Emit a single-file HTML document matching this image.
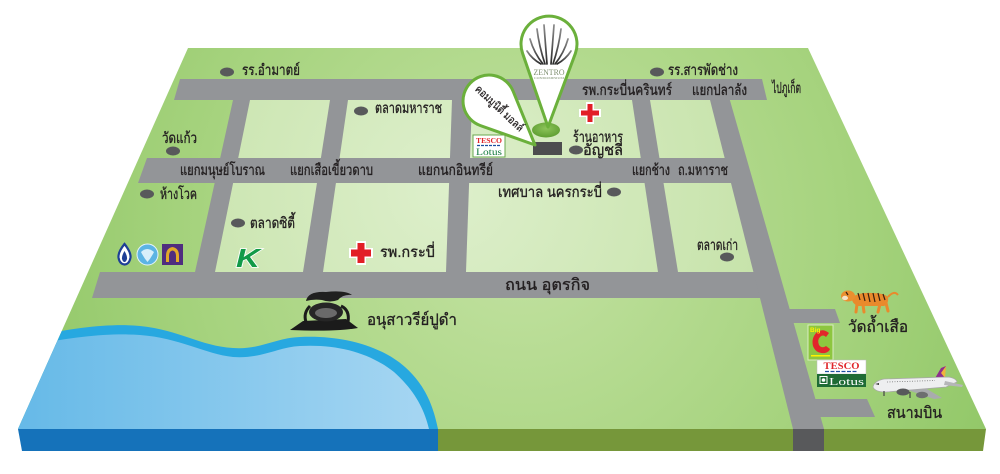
<!DOCTYPE html>
<html><head><meta charset="utf-8"><style>
html,body{margin:0;padding:0;background:#fff;}
svg{display:block;}
text{font-family:"Liberation Sans","DejaVu Sans",sans-serif;fill:#231f20;}
.lb text{stroke:#231f20;stroke-width:0.35;}
</style></head><body>
<svg width="1000" height="474" viewBox="0 0 1000 474" xmlns="http://www.w3.org/2000/svg">
<defs>
<radialGradient id="gTop" cx="520" cy="230" r="540" gradientUnits="userSpaceOnUse">
<stop offset="0" stop-color="#c3e2a2"/><stop offset="0.6" stop-color="#a6d37e"/><stop offset="1" stop-color="#8fc665"/></radialGradient>
<radialGradient id="gBlk" cx="450" cy="190" r="340" gradientUnits="userSpaceOnUse">
<stop offset="0" stop-color="#ddefcb"/><stop offset="1" stop-color="#c5e2a8"/></radialGradient>
<linearGradient id="gWater" x1="0" y1="0" x2="1" y2="0">
<stop offset="0" stop-color="#63b8e7"/><stop offset="1" stop-color="#a6d6f2"/></linearGradient>
<linearGradient id="gStripe" x1="0" y1="1" x2="0" y2="0">
<stop offset="0" stop-color="#2a2a2a"/><stop offset="1" stop-color="#8a8a8a"/></linearGradient>
<radialGradient id="gEll" cx="0.5" cy="0.4" r="0.6">
<stop offset="0" stop-color="#8cc45a"/><stop offset="1" stop-color="#5f9e32"/></radialGradient>
<clipPath id="cTop"><polygon points="188,48 808,48 986,429 18,429"/></clipPath>
</defs>

<!-- top face -->
<polygon points="188,48 808,48 986,429 18,429" fill="url(#gTop)"/>
<!-- front faces -->
<polygon points="18,429 438,429 438,451 22,451" fill="#1572ba"/>
<polygon points="438,429 986,429 983,451 438,451" fill="#76973a"/>
<rect x="793" y="429" width="31" height="22" fill="#58595b"/>

<!-- light blocks -->
<polygon points="240,100 720,100 765,272 205,272" fill="url(#gBlk)"/>

<!-- roads -->
<g fill="#939598">
<polygon points="180,79 762,79 767,100 174,100"/>
<polygon points="147,158 743,158 748,183 138,183"/>
<polygon points="100,272 776,272 783,298 92,298"/>
<polygon points="233,100 250,100 215,272 195,272"/>
<polygon points="330,100 348,100 323,272 303,272"/>
<polygon points="452,100 472,100 466,272 446,272"/>
<polygon points="632,100 650,100 678,272 658,272"/>
<polygon points="707.5,90 727,90 824,429 793,429"/>
<polygon points="780,309 835,309 840,323 785,323"/>
<polygon points="805,399 867,399 875,417 810,417"/>
</g>

<!-- water -->
<g clip-path="url(#cTop)">
<path d="M0,346 C40,333 100,322 140,326 C180,330 200,346 233,348 C260,350 275,338 300,337 C340,335 380,345 405,367 C425,385 433,405 438,429 L0,429 Z" fill="#27a8e0"/>
<path d="M0,354 C40,341 100,332 140,335 C180,338 205,354 233,357 C262,359 278,347 300,346 C338,344 370,353 394,372 C414,390 424,408 429,429 L0,429 Z" fill="url(#gWater)"/>
</g>

<!-- dots -->
<g fill="#58595b">
<ellipse cx="227" cy="72" rx="7" ry="4.5"/>
<ellipse cx="361" cy="111" rx="7" ry="4.5"/>
<ellipse cx="173" cy="151" rx="7" ry="4.5"/>
<ellipse cx="147" cy="194" rx="7" ry="4.5"/>
<ellipse cx="238" cy="223" rx="7" ry="4.5"/>
<ellipse cx="614" cy="192" rx="7" ry="4.5"/>
<ellipse cx="727" cy="257" rx="7" ry="4.5"/>
<ellipse cx="657" cy="72" rx="7" ry="4.5"/>
<ellipse cx="576" cy="150" rx="7" ry="4.5"/>
</g>

<!-- labels -->
<g font-size="15" class="lb">
<text x="242" y="75" textLength="58" lengthAdjust="spacingAndGlyphs">รร.อำมาตย์</text>
<text x="375" y="113" textLength="67" lengthAdjust="spacingAndGlyphs">ตลาดมหาราช</text>
<text x="162" y="143" textLength="35" lengthAdjust="spacingAndGlyphs">วัดแก้ว</text>
<text x="180" y="175" textLength="85" lengthAdjust="spacingAndGlyphs">แยกมนุษย์โบราณ</text>
<text x="290" y="175" textLength="83" lengthAdjust="spacingAndGlyphs">แยกเสือเขี้ยวดาบ</text>
<text x="418" y="175" textLength="75" lengthAdjust="spacingAndGlyphs">แยกนกอินทรีย์</text>
<text x="160" y="199" textLength="37" lengthAdjust="spacingAndGlyphs">ห้างโวค</text>
<text x="250" y="228" textLength="45" lengthAdjust="spacingAndGlyphs">ตลาดซิตี้</text>
<text x="380" y="257" textLength="55" lengthAdjust="spacingAndGlyphs">รพ.กระบี่</text>
<text x="498" y="197" textLength="104" lengthAdjust="spacingAndGlyphs">เทศบาล นครกระบี่</text>
<text x="505" y="290" font-size="16" textLength="85" lengthAdjust="spacingAndGlyphs">ถนน อุตรกิจ</text>
<text x="367" y="325" font-size="16" textLength="90" lengthAdjust="spacingAndGlyphs">อนุสาวรีย์ปูดำ</text>
<text x="848" y="332" font-size="16" textLength="60" lengthAdjust="spacingAndGlyphs">วัดถ้ำเสือ</text>
<text x="887" y="418" font-size="16" textLength="55" lengthAdjust="spacingAndGlyphs">สนามบิน</text>
<text x="697" y="250" textLength="41" lengthAdjust="spacingAndGlyphs">ตลาดเก่า</text>
<text x="632" y="175" textLength="38" lengthAdjust="spacingAndGlyphs">แยกช้าง</text>
<text x="678" y="175" textLength="50" lengthAdjust="spacingAndGlyphs">ถ.มหาราช</text>
<text x="692" y="95" textLength="55" lengthAdjust="spacingAndGlyphs">แยกปลาลัง</text>
<text x="772" y="93" textLength="29" lengthAdjust="spacingAndGlyphs">ไปภูเก็ต</text>
<text x="668" y="75" textLength="70" lengthAdjust="spacingAndGlyphs">รร.สารพัดช่าง</text>
<text x="582" y="95" textLength="90" lengthAdjust="spacingAndGlyphs">รพ.กระบี่นครินทร์</text>
<text x="573" y="142" textLength="50" lengthAdjust="spacingAndGlyphs">ร้านอาหาร</text>
<text x="583" y="155" textLength="40" lengthAdjust="spacingAndGlyphs">อัญชลี</text>
</g>

<!-- red crosses -->
<g>
<path d="M586,102 h8 v7 h7 v8 h-7 v7 h-8 v-7 h-7 v-8 h7 z" fill="#fff"/>
<path d="M587.5,104 h5 v6.5 h6.5 v5 h-6.5 v6.5 h-5 v-6.5 h-6.5 v-5 h6.5 z" fill="#e21e26"/>
<path d="M356,241 h10 v7 h7 v10 h-7 v7 h-10 v-7 h-7 v-10 h7 z" fill="#fff"/>
<path d="M357.5,243 h7 v6.5 h6.5 v7 h-6.5 v6.5 h-7 v-6.5 h-6.5 v-7 h6.5 z" fill="#e21e26"/>
</g>

<!-- small tesco lotus -->
<g>
<rect x="473" y="135" width="32" height="22" fill="#fff" stroke="#6aa84f" stroke-width="1"/>
<text x="489" y="143" font-size="7.5" font-weight="bold" text-anchor="middle" style="font-family:'Liberation Serif',serif;fill:#e0262b" textLength="26" lengthAdjust="spacingAndGlyphs">TESCO</text>
<line x1="477" y1="145.5" x2="501" y2="145.5" stroke="#1e4fa0" stroke-width="1.2" stroke-dasharray="3 1"/>
<text x="489" y="155" font-size="9.5" text-anchor="middle" style="font-family:'Liberation Serif',serif;fill:#127a3c" textLength="26" lengthAdjust="spacingAndGlyphs">Lotus</text>
</g>

<!-- base ellipse and building -->
<ellipse cx="546" cy="130" rx="14" ry="7.5" fill="url(#gEll)"/>
<rect x="533" y="142" width="29" height="13" fill="#4d4d4f"/>

<!-- small pin -->
<path d="M535,145 L480.2,125.5 A26 26 0 1 1 513.1,91.2 Z" fill="#fff" stroke="#6bb03b" stroke-width="3" stroke-linejoin="round"/>
<text transform="translate(497,111) rotate(43)" font-size="11" text-anchor="middle" textLength="62" lengthAdjust="spacingAndGlyphs" style="stroke:#231f20;stroke-width:0.25">คอมมูนิตี้ มอลล์</text>

<!-- big pin -->
<path d="M548,127 L522.6,53.4 A28 28 0 1 1 575.4,53.4 Z" fill="#fff" stroke="#6bb03b" stroke-width="3" stroke-linejoin="round"/>
<g stroke="url(#gStripe)" stroke-width="1.7" fill="none" stroke-linecap="round">
<path d="M549,64 L549,23"/>
<path d="M547,64 L544,25"/><path d="M551,64 L554,25"/>
<path d="M545,64 Q539,46 537,29"/><path d="M553,64 Q559,46 561,29"/>
<path d="M543,64 Q534,53 530,39"/><path d="M555,64 Q564,53 568,39"/>
<path d="M541,64 Q532,59 527,51"/><path d="M557,64 Q566,59 571,51"/>
</g>
<text x="549" y="75" font-size="8.5" text-anchor="middle" style="font-family:'Liberation Serif',serif;fill:#7f9070" textLength="31" lengthAdjust="spacingAndGlyphs">ZENTRO</text>
<text x="549" y="79" font-size="3" text-anchor="middle" style="font-family:'Liberation Serif',serif;fill:#7f9070" textLength="30" lengthAdjust="spacingAndGlyphs">CONDOMINIUM</text>

<!-- bank icons -->
<path d="M124.5,244 Q118,252 118.5,257.5 Q119.5,264 124.5,264.5 Q129.5,264 130.5,257.5 Q131,252 124.5,244 Z" fill="#fff" stroke="#1e3f96" stroke-width="2.2"/>
<path d="M124.5,251 Q121.5,256 122,259 Q123,262 124.5,262 Q126,262 127,259 Q127.5,256 124.5,251 Z" fill="#1e3f96"/>
<circle cx="147.5" cy="254.5" r="10.5" fill="#5cb4e4" stroke="#e6f4fb" stroke-width="1"/>
<path d="M141,252 Q147,246 154,252 Q151,258 147.5,262 Q144,258 141,252 Z" fill="#d8effa"/>
<rect x="162" y="244" width="21" height="21" fill="#4f2d7f"/>
<path d="M166,262 L166,256 Q166,248 172.5,247 Q179,248 179,256 L179,262 L176,262 L176,256 Q176,251 172.5,250.5 Q169,251 169,256 L169,262 Z" fill="#e2a829"/>

<!-- K logo -->
<text x="236" y="267" font-size="26" font-weight="bold" font-style="italic" style="fill:#129a48;stroke:#fff;stroke-width:1.5;paint-order:stroke" textLength="24" lengthAdjust="spacingAndGlyphs">K</text>

<!-- crab monument -->
<g>
<path d="M290,330 L303,321 L346,319 L358,328 Q335,332 290,330 Z" fill="#1b1b1b"/>
<ellipse cx="326" cy="312" rx="17" ry="9.5" fill="#262626"/>
<ellipse cx="326" cy="313" rx="11" ry="5" fill="#6a6a6a"/>
<path d="M306,301 Q308,291 326,292 Q345,290 352,295 Q343,294 338,300 Q330,303 322,300 Q313,299 306,301 Z" fill="#202020"/>
<path d="M341,306 Q350,310 348,322" stroke="#1b1b1b" stroke-width="3" fill="none"/>
<path d="M310,306 Q303,313 306,322" stroke="#1b1b1b" stroke-width="3" fill="none"/>
</g>

<!-- tiger -->
<g>
<path d="M852,297 Q860,292 872,293 Q884,293 888,297 Q889,304 884,306 L858,306 Q851,303 852,297 Z" fill="#e98a2c"/>
<ellipse cx="848" cy="296" rx="7" ry="5.5" fill="#ea8f2f"/>
<ellipse cx="845" cy="298" rx="3" ry="2.2" fill="#f5e3c8"/>
<g stroke="#e98a2c" stroke-width="3" stroke-linecap="round">
<line x1="857" y1="304" x2="856" y2="312"/><line x1="863" y1="305" x2="864" y2="312"/>
<line x1="880" y1="304" x2="878" y2="312"/><line x1="886" y1="303" x2="888" y2="311"/>
</g>
<path d="M888,297 Q894,290 898,295" stroke="#e98a2c" stroke-width="2" fill="none"/>
<g stroke="#3a2010" stroke-width="1.2">
<line x1="858" y1="293" x2="860" y2="300"/><line x1="863" y1="293" x2="865" y2="301"/>
<line x1="868" y1="293" x2="870" y2="302"/><line x1="873" y1="293" x2="875" y2="302"/>
<line x1="878" y1="293" x2="880" y2="301"/><line x1="883" y1="294" x2="885" y2="300"/>
<line x1="846" y1="292" x2="848" y2="295"/>
</g>
</g>

<!-- Big C -->
<g>
<rect x="808" y="325" width="25" height="35" fill="#8dc63f" stroke="#d9ecc2" stroke-width="1"/>
<path d="M829,333 Q823,328 817,332 Q811,338 813,346 Q816,354 825,353 Q829,352 830,349 L826,346 Q822,349 819,345 Q817,340 820,337 Q823,334 826,337 Z" fill="#e2262b"/>
<text x="810" y="332" font-size="6.5" font-weight="bold" style="fill:#fff200">Big</text>
<rect x="811" y="355" width="19" height="1.5" fill="#fff200"/>
</g>

<!-- big tesco lotus -->
<g>
<rect x="817" y="360" width="49" height="14" fill="#fff" stroke="#bbb" stroke-width="0.5"/>
<text x="841.5" y="369" font-size="9.5" font-weight="bold" text-anchor="middle" style="font-family:'Liberation Serif',serif;fill:#e0262b" textLength="36" lengthAdjust="spacingAndGlyphs">TESCO</text>
<line x1="825" y1="371.5" x2="858" y2="371.5" stroke="#1e4fa0" stroke-width="1.3" stroke-dasharray="4 1.5"/>
<rect x="817" y="374" width="49" height="13" fill="#1f6b35"/>
<rect x="820" y="376.5" width="7" height="7" fill="none" stroke="#fff" stroke-width="1"/>
<circle cx="823.5" cy="380" r="1.8" fill="#fff"/>
<text x="829" y="385" font-size="11" style="font-family:'Liberation Serif',serif;fill:#fff" textLength="35" lengthAdjust="spacingAndGlyphs">Lotus</text>
</g>

<!-- airplane -->
<g>
<path d="M899,387 L922,386 L942,398 L934,399 Z" fill="#a9abae"/>
<path d="M934,380 L941,368 L946,366 L944,383 Z" fill="#8e2f8c"/>
<path d="M941,373 L946,366 L945,378 Z" fill="#f0b43c"/>
<path d="M873,387 Q874,381 884,379 L948,377 Q956,378 957,382 L946,387 L886,392 Q875,392 873,387 Z" fill="#eeeff0" stroke="#a8a8a8" stroke-width="0.7"/>
<path d="M945,381 L963,385 L962,387 L944,385 Z" fill="#b5b6b8"/>
<ellipse cx="903" cy="392" rx="6.5" ry="3.5" fill="#58595b"/>
<ellipse cx="922" cy="395" rx="6" ry="3.2" fill="#6d6e70"/>
<line x1="887" y1="382" x2="935" y2="380.5" stroke="#7a7a7a" stroke-width="0.8" stroke-dasharray="1 1.5"/>
<line x1="910" y1="392" x2="910" y2="398" stroke="#444" stroke-width="1.2"/>
<line x1="884" y1="391" x2="884" y2="396" stroke="#444" stroke-width="1.2"/>
<path d="M875,384 L879,383 L879,385 Z" fill="#333"/>
</g>
</svg>
</body></html>
